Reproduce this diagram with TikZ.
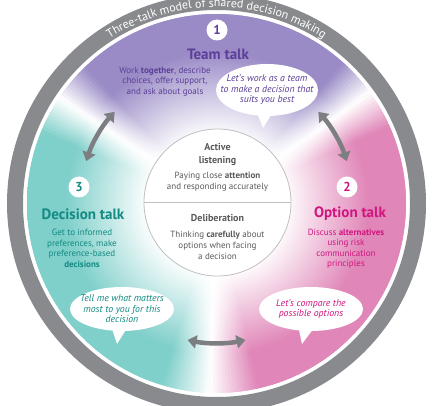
\documentclass[tikz,border=0pt]{standalone}
\usepackage{fontspec}
\setmainfont{PT Sans}
\usepackage{tikz}
\usetikzlibrary{arrows.meta,shapes.callouts,decorations.text}

\definecolor{ringgray}{HTML}{898A8D}
\definecolor{arrowgray}{HTML}{7D7E82}
\definecolor{bgpurple}{HTML}{9A8BC6}
\definecolor{bgteal}{HTML}{7FCFCA}
\definecolor{bgpink}{HTML}{E086B8}
\definecolor{txtpurple}{HTML}{5C3F99}
\definecolor{txtteal}{HTML}{138A82}
\definecolor{txtpink}{HTML}{D0157F}
\definecolor{txtgray}{HTML}{5A5A5A}
\colorlet{ringcol}{white}

% white in the middle, colour towards the rim
\pgfdeclareradialshading[ringcol]{ringfade}{\pgfpoint{0bp}{0bp}}{color(0bp)=(white); color(9bp)=(white); color(20bp)=(ringcol); color(50bp)=(ringcol)}

\begin{document}
\begin{tikzpicture}[x=1pt, y=1pt,
    num/.style = {circle, fill=white, minimum size=21pt, inner sep=0pt, font=\fontsize{13}{13}\selectfont\bfseries},
    talk/.style = {font=\fontsize{15}{15}\selectfont\bfseries},
    desc/.style = {align=center, font=\fontsize{9}{10.5}\selectfont},
    head/.style = {align=center, text=txtgray, font=\fontsize{10}{13}\selectfont\bfseries},
    body/.style = {align=center, text=txtgray, font=\fontsize{9}{10.8}\selectfont},
    bubble/.style = {ellipse callout, fill=white, inner sep=0pt, callout pointer arc=14},
    quote/.style = {align=center, font=\fontsize{9.8}{10.5}\selectfont\itshape},
    twoway/.style = {arrowgray, line width=4.5pt, {Triangle[width=13pt,length=9pt]}-{Triangle[width=13pt,length=9pt]}}]
  \clip (0,0) rectangle (434,405);
  \coordinate (c) at (216.5,201.5);

  % coloured disc, one thin wedge at a time
  \foreach \a in {0,1,...,359}{
    \pgfmathsetmacro\m{\a+0.5}
    \pgfmathsetmacro\e{\a+1.8}
    \pgfmathsetmacro\n{\m+360*(\m<100)}
    \pgfmathsetmacro\pv{max(0,min(1,(\m-36)/12,(146-\m)/12))}
    \pgfmathsetmacro\tv{max(0,min(1,(\m-146)/12,(268-\m)/15))}
    \pgfmathsetmacro\kv{max(0,min(1,(\n-268)/15,(396-\n)/12))}
    \pgfmathsetmacro\wv{1-\pv-\tv-\kv}
    \colorlet{ringcol}{rgb:bgpurple,\pv;bgteal,\tv;bgpink,\kv;white,\wv}
    \begin{scope}
      \clip (c) -- ++(\a:200) arc[start angle=\a, end angle=\e, radius=200] -- cycle;
      \shade[shading=ringfade] (c) circle (189.5);
    \end{scope}
  }

  % outer ring and its title
  \fill[ringgray, even odd rule] (c) circle (209.5) circle (193.5);
  \path[decorate, decoration={text along path, text align=center,
      text={|\fontsize{12}{12}\selectfont\color{white}|Three-talk model of shared decision making}}]
    (c) ++(150:196.5) arc[start angle=150, end angle=30, radius=196.5];

  % arrows between the talks
  \path (c) ++(138:137) coordinate (la);
  \path (c) ++(42:137) coordinate (ra);
  \path (c) ++(258:139.5) coordinate (ba);
  \draw[twoway] (la) arc[start angle=138, end angle=162, radius=137];
  \draw[twoway] (ra) arc[start angle=42, end angle=18, radius=137];
  \draw[twoway] (ba) arc[start angle=258, end angle=282, radius=139.5];

  % middle circle
  \node[circle, draw=black!25, fill=white, line width=0.8pt, minimum size=147pt] (mid) at (217.5,202.5) {};
  \draw[black!25, line width=0.8pt] (mid.west) -- (mid.east);
  \node[head] (listen) at (217.5,250.5) {Active\\listening};
  \node[body] (listentext) at (217.5,223.5) {Paying close \textbf{attention}\\and responding accurately};
  \node[head] (delib) at (217.5,187) {Deliberation};
  \node[body] (delibtext) at (217.5,159.5) {Thinking \textbf{carefully} about\\options when facing\\a decision};

  % team talk
  \node[num, text=txtpurple] (n1) at (217,375) {1};
  \node[talk, text=txtpurple] (team) at (218,351) {Team talk};
  \node[desc, text=txtpurple] (teamtext) at (165,323.5) {Work \textbf{together}, describe\\choices, offer support,\\and ask about goals};
  \node[bubble, minimum width=102pt, minimum height=52pt, callout absolute pointer={(263,277)}] (teambubble) at (267,315) {};
  \node[quote, text=txtpurple] (teamquote) at (teambubble) {Let's work as a team\\to make a decision that\\suits you best};

  % option talk
  \node[num, text=txtpink] (n2) at (347,218) {2};
  \node[talk, text=txtpink] (option) at (350,191) {Option talk};
  \node[desc, text=txtpink] (optiontext) at (346,156.5) {Discuss \textbf{alternatives}\\using risk\\communication\\principles};
  \node[bubble, minimum width=104pt, minimum height=44pt, callout absolute pointer={(302,61)}] (optionbubble) at (311,96) {};
  \node[quote, text=txtpink] (optionquote) at (optionbubble) {Let's compare the\\possible options};

  % decision talk
  \node[num, text=txtteal] (n3) at (79,218) {3};
  \node[talk, text=txtteal] (decision) at (83,191) {Decision talk};
  \node[desc, text=txtteal] (decisiontext) at (82,156.5) {Get to informed\\preferences, make\\preference-based\\\textbf{decisions}};
  \node[bubble, minimum width=104pt, minimum height=44pt, callout absolute pointer={(117,61)}] (decisionbubble) at (122,96) {};
  \node[quote, text=txtteal] (decisionquote) at (decisionbubble) {Tell me what matters\\most to you for this\\decision};
\end{tikzpicture}
\end{document}
